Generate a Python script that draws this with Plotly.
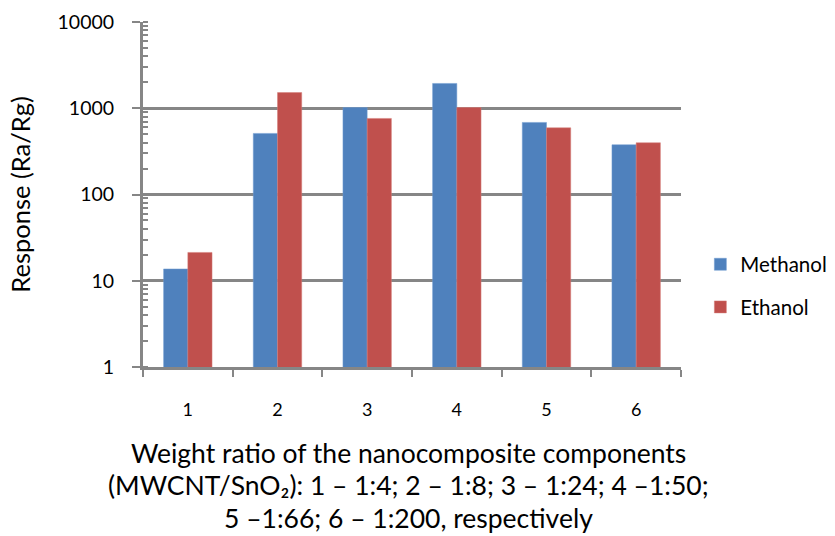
import plotly.graph_objects as go

categories = ["1", "2", "3", "4", "5", "6"]
methanol = [13.7, 511, 1020, 1940, 685, 377]
ethanol = [21.3, 1520, 762, 1020, 593, 398]
y_tickvals = [1, 10, 100, 1000, 10000]
y_ticktext = ["1", "10", "100", "1000", "10000"]
xtitle_lines = [
    "Weight ratio of the nanocomposite components",
    "(MWCNT/SnO₂): 1 – 1:4; 2 – 1:8; 3 – 1:24; 4 –1:50;",
    "5 –1:66; 6 – 1:200, respectively",
]

FONT = "Lato, Carlito, Calibri, sans-serif"
GRAY = "#868686"

fig = go.Figure()
fig.add_trace(go.Bar(x=categories, y=methanol, name="Methanol", legendgroup="m",
                     marker=dict(color="#4F81BD", line=dict(color="#6F9BD1", width=0.5))))
fig.add_trace(go.Bar(x=categories, y=ethanol, name="Ethanol", legendgroup="e",
                     marker=dict(color="#C0504D", line=dict(color="#D47C79", width=0.5))))

fig.update_layout(
    width=835, height=536,
    margin=dict(l=143, r=154, t=22, b=169, autoexpand=False),
    paper_bgcolor="white", plot_bgcolor="white",
    barmode="group", bargap=0.46, bargroupgap=0,
    font=dict(family=FONT, color="black"),
    legend=dict(x=1.036, y=0.235, xanchor="left", yanchor="middle",
                font=dict(size=20.5, family=FONT), itemwidth=30,
                tracegroupgap=13, traceorder="grouped"),
    showlegend=True,
)
fig.update_xaxes(
    type="category", showline=True, linecolor=GRAY, linewidth=3,
    ticks="outside", tickson="boundaries", ticklen=7, tickwidth=2, tickcolor=GRAY,
    tickfont=dict(size=18, family=FONT), ticklabelstandoff=24,
    showgrid=False, zeroline=False, automargin=False,
)
fig.update_yaxes(
    type="log", range=[0, 4], tickvals=y_tickvals, ticktext=y_ticktext,
    showline=True, linecolor=GRAY, linewidth=3,
    ticks="outside", ticklen=8, tickwidth=2, tickcolor=GRAY,
    tickfont=dict(size=19.5, family=FONT), ticklabelstandoff=14,
    showgrid=True, gridcolor=GRAY, gridwidth=3, zeroline=False, automargin=False,
    minor=dict(ticks="inside", ticklen=5, tickwidth=2, tickcolor=GRAY, dtick="D1", showgrid=False),
    title=dict(text="Response (Ra/Rg)", font=dict(size=25.5, family=FONT), standoff=20),
)

line_y = [453, 485, 518]
for txt, yp in zip(xtitle_lines, line_y):
    fig.add_annotation(
        xref="paper", yref="paper", x=0.494, y=(367 - yp) / 345, xanchor="center", yanchor="middle",
        showarrow=False, align="center", text=txt,
        font=dict(size=26.5, family=FONT, color="black"),
    )

fig.write_html("out.html", config={"displayModeBar": False},
               post_script="document.body.style.margin='0';")
